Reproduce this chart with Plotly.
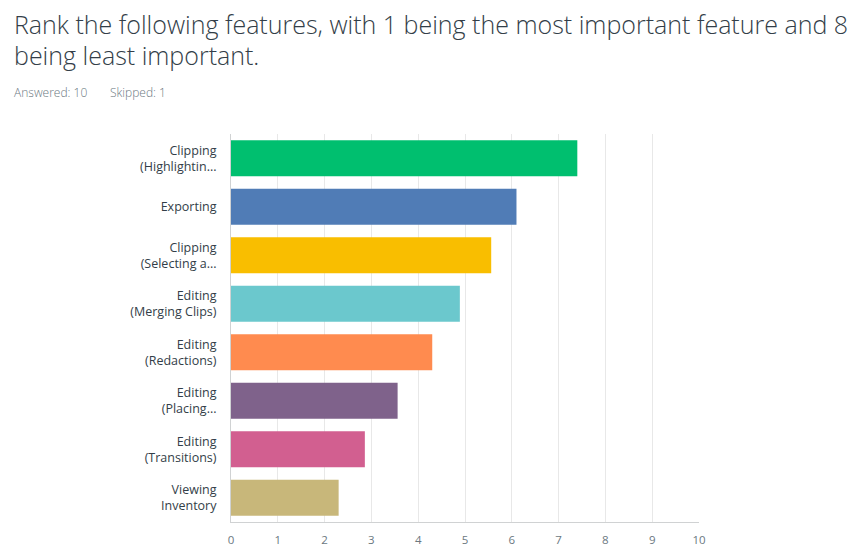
import plotly.graph_objects as go

# survey ranking scores, top to bottom as shown
features = [
    "Clipping<br>(Highlightin...",
    "Exporting",
    "Clipping<br>(Selecting a...",
    "Editing<br>(Merging Clips)",
    "Editing<br>(Redactions)",
    "Editing<br>(Placing...",
    "Editing<br>(Transitions)",
    "Viewing<br>Inventory",
]
scores = [7.40, 6.10, 5.56, 4.89, 4.30, 3.56, 2.86, 2.30]
bar_colors = ["#00bf6f", "#507cb6", "#f9be00", "#6bc8cd", "#ff8b4f",
              "#7f628b", "#d25f90", "#c8b77a"]
x_ticks = list(range(0, 11))

TEXT = "#333e48"
GREY = "#6b787f"
FONT = "Open Sans"

# page body has an 8px default margin, so the figure sits at (8, 8)
W, H = 858, 551
ML, MR, MT, MB = 223, 167, 126, 37

fig = go.Figure(go.Bar(
    x=scores,
    y=features,
    orientation="h",
    marker=dict(color=bar_colors, line=dict(width=0)),
    hoverinfo="x+y",
))

fig.update_layout(
    width=W,
    height=H,
    margin=dict(l=ML, r=MR, t=MT, b=MB),
    paper_bgcolor="white",
    plot_bgcolor="white",
    showlegend=False,
    bargap=0.26,
    font=dict(family=FONT, color=TEXT),
    xaxis=dict(
        range=[0, 10],
        tickvals=x_ticks,
        showgrid=True,
        gridcolor="#e8e8e8",
        gridwidth=1,
        zeroline=False,
        showline=True,
        linecolor="#d0d2d3",
        tickfont=dict(size=11.5, color=GREY),
        ticks="outside",
        ticklen=7,
        tickcolor="rgba(0,0,0,0)",
        fixedrange=True,
    ),
    yaxis=dict(
        autorange="reversed",
        showline=True,
        linecolor="#d0d2d3",
        showgrid=False,
        tickfont=dict(size=12.5, color=TEXT),
        ticks="outside",
        ticklen=11,
        tickcolor="rgba(0,0,0,0)",
        fixedrange=True,
    ),
)

# header text placed by pixel position in the page
header = [
    ("Rank the following features, with 1 being the most important feature and 8", 12, 24, 25, TEXT),
    ("being least important.", 12, 55, 25, TEXT),
    ("Answered: 10", 12, 93, 12, GREY),
    ("Skipped: 1", 108, 93, 12, GREY),
]
plot_w = W - ML - MR
plot_h = H - MT - MB
for text, px, py, size, color in header:
    fig.add_annotation(
        text=text, showarrow=False,
        xref="paper", yref="paper",
        x=(px - 8 - ML) / plot_w,
        y=1 + (MT - (py - 8)) / plot_h,
        xanchor="left", yanchor="middle",
        font=dict(size=size, color=color, family=FONT, weight=300),
    )

fig.write_html("out.html", config={"displayModeBar": False})
